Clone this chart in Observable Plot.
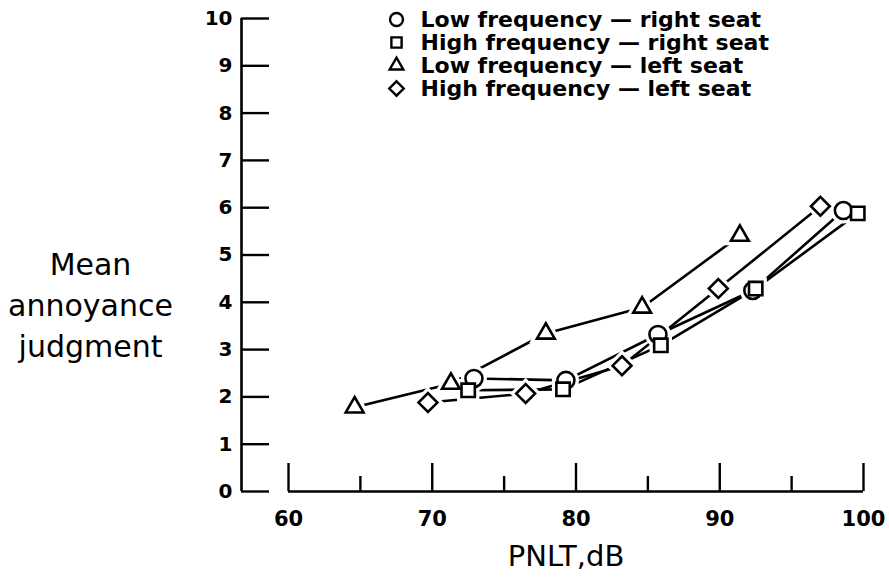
<!DOCTYPE html>
<html><head><meta charset="utf-8">
<script src="https://cdn.jsdelivr.net/npm/d3@7"></script>
<script src="https://cdn.jsdelivr.net/npm/@observablehq/plot@0.6"></script>
<style>body{margin:0;background:#fff}#chart svg{display:block}</style>
</head><body><div id="chart"></div>
<script>
const seriesNames = ["Low frequency \u2014 right seat", "High frequency \u2014 right seat", "Low frequency \u2014 left seat", "High frequency \u2014 left seat"];
const seriesSymbols = ["circle", "square2", "triangle2", "diamond2"];

const lowRightX = [72.9, 79.3, 85.7, 92.3, 98.6];
const lowRightY = [2.39, 2.35, 3.32, 4.25, 5.94];
const highRightX = [72.5, 79.1, 85.9, 92.5, 99.6];
const highRightY = [2.14, 2.16, 3.09, 4.29, 5.88];
const lowLeftX = [64.6, 71.3, 77.9, 84.6, 91.4];
const lowLeftY = [1.78, 2.28, 3.34, 3.89, 5.41];
const highLeftX = [69.7, 76.5, 83.2, 89.9, 97.0];
const highLeftY = [1.88, 2.07, 2.66, 4.29, 6.03];

const yTicks = [0, 1, 2, 3, 4, 5, 6, 7, 8, 9, 10];
const xMajorTicks = [60, 70, 80, 90, 100];
const xMinorTicks = [65, 75, 85, 95];
const xTitle = "PNLT,dB";
const yTitle = "Mean\nannoyance\njudgment";

const seriesX = [lowRightX, highRightX, lowLeftX, highLeftX];
const seriesY = [lowRightY, highRightY, lowLeftY, highLeftY];
const points = [];
seriesNames.forEach((name, i) => {
  seriesX[i].forEach((x, j) => points.push({series: name, x, y: seriesY[i][j]}));
});

const font = "'DejaVu Sans', sans-serif";
const legendDy = [1, 24, 47, 70];

const legendMarks = seriesNames.flatMap((name, i) => [
  Plot.dot([name], {frameAnchor: "top-left", dx: 108, dy: legendDy[i], symbol: d => d, r: 6.5, stroke: "black", strokeWidth: 2.4, fill: "white"}),
  Plot.text([name], {frameAnchor: "top-left", lineAnchor: "middle", dx: 132, dy: legendDy[i], text: d => d, textAnchor: "start", fontSize: 22, fontWeight: 600, letterSpacing: 2.6})
]);

const chart = Plot.plot({
  width: 889,
  height: 583,
  marginLeft: 288,
  marginRight: 26,
  marginTop: 18,
  marginBottom: 92,
  style: {fontFamily: font, background: "white", color: "black"},
  x: {domain: d3.extent(xMajorTicks), label: null},
  y: {domain: d3.extent(yTicks), label: null},
  symbol: {domain: seriesNames, range: seriesSymbols},
  marks: [
    Plot.ruleX([xMajorTicks[0]], {y1: yTicks[0], y2: yTicks[yTicks.length - 1], dx: -47, strokeWidth: 2.6}),
    Plot.axisY({ticks: yTicks, anchor: "left", dx: -47, tickSize: -28, strokeWidth: 2.4, fill: "none"}),
    Plot.axisY({ticks: yTicks, anchor: "left", dx: -47, tickSize: 0, tickPadding: 9, fontSize: 20, fontWeight: "bold"}),
    Plot.ruleY([yTicks[0]], {x1: xMajorTicks[0], x2: xMajorTicks[xMajorTicks.length - 1], strokeWidth: 2.6}),
    Plot.axisX({ticks: xMajorTicks, anchor: "bottom", tickSize: -28, strokeWidth: 2.4, fill: "none"}),
    Plot.axisX({ticks: xMinorTicks, anchor: "bottom", tickSize: -15, strokeWidth: 2.4, fill: "none"}),
    Plot.axisX({ticks: xMajorTicks, anchor: "bottom", tickSize: 0, tickPadding: 20, fontSize: 21, fontWeight: "bold"}),
    Plot.line(points, {x: "x", y: "y", z: "series", stroke: "black", strokeWidth: 2.6}),
    Plot.dot(points, {x: "x", y: "y", symbol: "series", r: 8.5, stroke: "white", strokeWidth: 9, fill: "white"}),
    Plot.dot(points, {x: "x", y: "y", symbol: "series", r: 8.5, stroke: "black", strokeWidth: 2.6, fill: "white"}),
    ...legendMarks,
    Plot.text([yTitle], {frameAnchor: "left", dx: -198, dy: 48, text: d => d, textAnchor: "middle", fontSize: 30, lineHeight: 1.36, letterSpacing: 0.4}),
    Plot.text([xTitle], {frameAnchor: "bottom", dx: -10, dy: 74, text: d => d, textAnchor: "middle", fontSize: 29, letterSpacing: 1.5})
  ]
});
document.getElementById("chart").append(chart);
</script>
</body></html>
